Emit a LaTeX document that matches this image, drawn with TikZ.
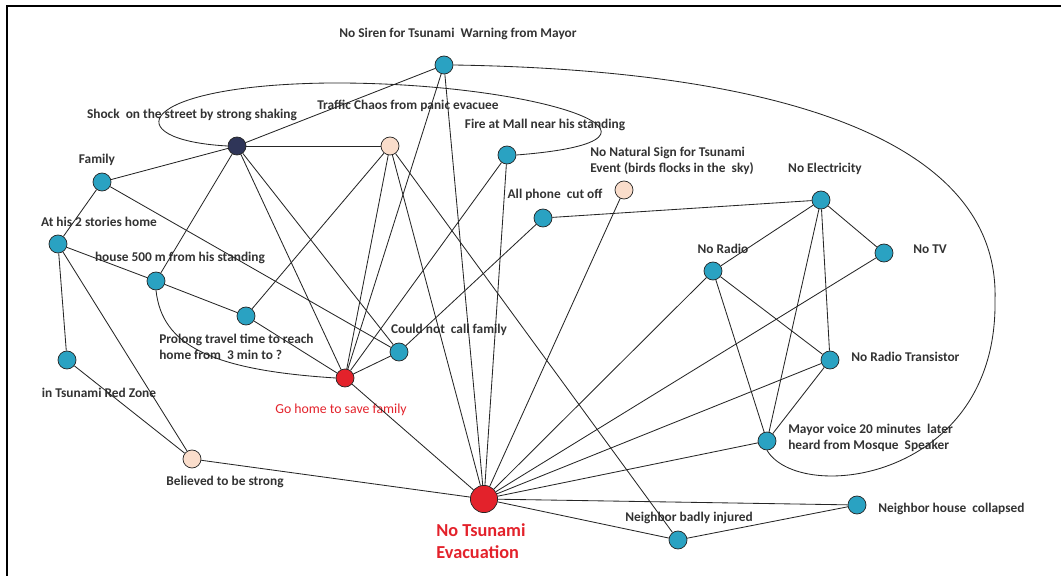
\documentclass[tikz,border=0pt]{standalone}
\usepackage{fontspec}
\setmainfont{Carlito}
\definecolor{evteal}{HTML}{2AA2C2}
\definecolor{evnavy}{HTML}{2F3558}
\definecolor{evpeach}{HTML}{FADDCB}
\definecolor{evred}{HTML}{E3222B}
\begin{document}
\begin{tikzpicture}[x=0.025cm,y=-0.025cm,
    ev/.style={circle,draw=black!85,line width=0.5pt,fill=evteal,minimum size=0.45cm,inner sep=0pt},
    shockev/.style={ev,fill=evnavy},
    softev/.style={ev,fill=evpeach},
    goal/.style={ev,fill=evred},
    lbl/.style={font=\fontsize{9.5}{11.5}\selectfont\bfseries,text=black!80,inner sep=0pt,align=left},
    redlbl/.style={lbl,font=\fontsize{9.8}{11.5}\selectfont,text=evred},
    tie/.style={draw=black!85,line width=0.6pt}]
    \useasboundingbox (0,0) rectangle (1061,576);
    \draw[line width=1.2pt] (7,6) rectangle (1075,590);
    %% events
    \node[ev] (Siren) at (444,65) {};
    \node[shockev] (Shock) at (237,146) {};
    \node[softev] (Traffic) at (390,146) {};
    \node[ev] (Fire) at (507,155) {};
    \node[softev] (NatSign) at (624,190) {};
    \node[ev] (Phone) at (543,218) {};
    \node[ev] (Elec) at (821,200) {};
    \node[ev] (TV) at (884,253) {};
    \node[ev] (Radio) at (713,271) {};
    \node[ev] (Transistor) at (830,360) {};
    \node[ev] (Mayor) at (767,441) {};
    \node[ev] (HouseColl) at (857,505) {};
    \node[ev] (Injured) at (678,540) {};
    \node[goal,minimum size=0.68cm] (Evac) at (484,499) {};
    \node[goal] (GoHome) at (345,378) {};
    \node[ev] (CouldNot) at (399,352) {};
    \node[ev] (Prolong) at (246,316) {};
    \node[ev] (House500) at (156,281) {};
    \node[ev] (Family) at (102,182) {};
    \node[ev] (Home2) at (58,244) {};
    \node[ev] (RedZone) at (67,360) {};
    \node[softev] (Strong) at (192,459) {};
    %% labels
    \node[lbl] (Siren-t) at (458,34) {No Siren for Tsunami\ \ Warning from Mayor};
    \node[lbl] (Shock-t) at (192,115) {Shock\ \ on the street by strong shaking};
    \node[lbl] (Traffic-t) at (408,106) {Traffic Chaos from panic evacuee};
    \node[lbl] (Fire-t) at (545,125) {Fire at Mall near his standing};
    \node[lbl,anchor=west] (NatSign-t) at (590,161) {No Natural Sign for Tsunami\\Event (birds flocks in the\ \ sky)};
    \node[lbl] (Phone-t) at (555,195) {All phone\ \ cut off};
    \node[lbl] (Elec-t) at (825,169) {No Electricity};
    \node[lbl] (TV-t) at (930,249) {No TV};
    \node[lbl] (Radio-t) at (723,249) {No Radio};
    \node[lbl,anchor=west] (Transistor-t) at (851,357) {No Radio Transistor};
    \node[lbl,anchor=west] (Mayor-t) at (788,438) {Mayor voice 20 minutes\ \ later\\heard from Mosque\ \ Speaker};
    \node[lbl,anchor=west] (HouseColl-t) at (878,509) {Neighbor house\ \ collapsed};
    \node[lbl] (Injured-t) at (689,518) {Neighbor badly injured};
    \node[redlbl,font=\fontsize{13}{15.5}\selectfont\bfseries] (Evac-t) at (481,541) {No Tsunami\\Evacuation};
    \node[redlbl] (GoHome-t) at (341,410) {Go home to save family};
    \node[lbl] (CouldNot-t) at (449,330) {Could not\ \ call family};
    \node[lbl,anchor=west] (Prolong-t) at (159,347) {Prolong travel time to reach\\home from\ \ 3 min to ?};
    \node[lbl] (House500-t) at (180,258) {house 500 m from his standing};
    \node[lbl] (Family-t) at (97,160) {Family};
    \node[lbl] (Home2-t) at (99,222) {At his 2 stories home};
    \node[lbl] (RedZone-t) at (99,393) {in Tsunami Red Zone};
    \node[lbl] (Strong-t) at (225,482) {Believed to be strong};
    %% ties
    \foreach \a/\b in {Shock/Family,Shock/Traffic,Shock/Siren,Shock/House500,Shock/GoHome,Shock/CouldNot,
        Family/Home2,Family/CouldNot,Home2/House500,Home2/RedZone,Home2/Strong,RedZone/Strong,
        House500/Prolong,Prolong/GoHome,Prolong/Traffic,GoHome/CouldNot,GoHome/Traffic,GoHome/Siren,
        GoHome/Fire,GoHome/Evac,Traffic/Evac,Traffic/Injured,Siren/Evac,Fire/Evac,NatSign/Evac,
        Phone/CouldNot,Phone/Elec,Elec/Radio,Elec/TV,Elec/Transistor,Elec/Mayor,Radio/Evac,
        Radio/Transistor,Radio/Mayor,TV/Evac,Transistor/Mayor,Transistor/Evac,Mayor/Evac,
        HouseColl/Evac,HouseColl/Injured,Injured/Evac,Strong/Evac}
        \draw[tie] (\a) -- (\b);
    %% curved ties
    \draw[tie] (Shock.west) .. controls (115,140) and (135,85) .. (330,83)
        .. controls (540,82) and (710,140) .. (Fire.east);
    \draw[tie] (House500.south) .. controls (162,345) and (210,370) .. (GoHome.west);
    \draw[tie] (Siren.east) .. controls (780,70) and (1000,140) .. (995,300)
        .. controls (998,480) and (800,505) .. (Mayor.south);
\end{tikzpicture}
\end{document}
